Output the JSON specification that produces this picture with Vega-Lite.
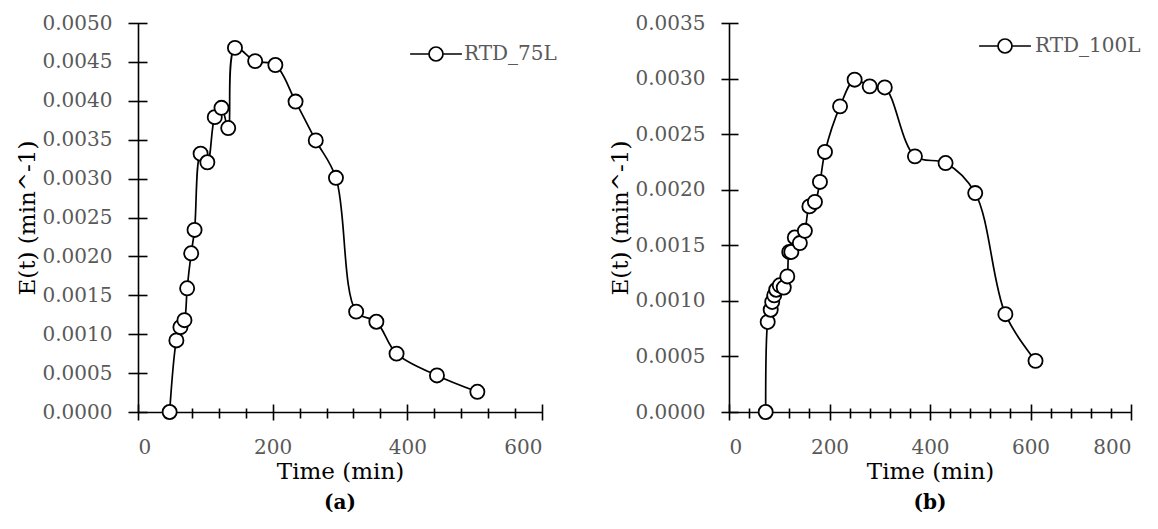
{
  "$schema": "https://vega.github.io/schema/vega-lite/v6.json",
  "background": "white",
  "padding": {"left": 16, "top": 13, "right": 0, "bottom": 0},
  "config": {
    "view": {"stroke": null},
    "font": "DejaVu Serif",
    "axis": {"grid": false, "labelFont": "DejaVu Serif", "titleFont": "DejaVu Serif", "domainColor": "black", "tickColor": "black", "domainWidth": 1.6, "tickWidth": 1.6},
    "legend": {"labelFont": "DejaVu Serif"}
  },
  "datasets": {
    "a": [
      {"t": 47, "E": 0, "series": "RTD_75L"},
      {"t": 57, "E": 0.00092, "series": "RTD_75L"},
      {"t": 63, "E": 0.00109, "series": "RTD_75L"},
      {"t": 69, "E": 0.00118, "series": "RTD_75L"},
      {"t": 73, "E": 0.00159, "series": "RTD_75L"},
      {"t": 79, "E": 0.00204, "series": "RTD_75L"},
      {"t": 84, "E": 0.00234, "series": "RTD_75L"},
      {"t": 93, "E": 0.00332, "series": "RTD_75L"},
      {"t": 103, "E": 0.00321, "series": "RTD_75L"},
      {"t": 114, "E": 0.00379, "series": "RTD_75L"},
      {"t": 124, "E": 0.00391, "series": "RTD_75L"},
      {"t": 134, "E": 0.00365, "series": "RTD_75L"},
      {"t": 144, "E": 0.00468, "series": "RTD_75L"},
      {"t": 174, "E": 0.00451, "series": "RTD_75L"},
      {"t": 204, "E": 0.00446, "series": "RTD_75L"},
      {"t": 234, "E": 0.00399, "series": "RTD_75L"},
      {"t": 264, "E": 0.00349, "series": "RTD_75L"},
      {"t": 294, "E": 0.00301, "series": "RTD_75L"},
      {"t": 324, "E": 0.00129, "series": "RTD_75L"},
      {"t": 354, "E": 0.00116, "series": "RTD_75L"},
      {"t": 384, "E": 0.00075, "series": "RTD_75L"},
      {"t": 444, "E": 0.00047, "series": "RTD_75L"},
      {"t": 504, "E": 0.00026, "series": "RTD_75L"}
    ],
    "b": [
      {"t": 73, "E": 0, "series": "RTD_100L"},
      {"t": 77, "E": 0.00081, "series": "RTD_100L"},
      {"t": 83, "E": 0.00092, "series": "RTD_100L"},
      {"t": 86, "E": 0.00099, "series": "RTD_100L"},
      {"t": 90, "E": 0.00105, "series": "RTD_100L"},
      {"t": 94, "E": 0.0011, "series": "RTD_100L"},
      {"t": 101, "E": 0.00114, "series": "RTD_100L"},
      {"t": 109, "E": 0.00112, "series": "RTD_100L"},
      {"t": 116, "E": 0.00122, "series": "RTD_100L"},
      {"t": 120, "E": 0.00144, "series": "RTD_100L"},
      {"t": 124, "E": 0.00144, "series": "RTD_100L"},
      {"t": 131, "E": 0.00157, "series": "RTD_100L"},
      {"t": 141, "E": 0.00152, "series": "RTD_100L"},
      {"t": 151, "E": 0.00163, "series": "RTD_100L"},
      {"t": 160, "E": 0.00185, "series": "RTD_100L"},
      {"t": 171, "E": 0.00189, "series": "RTD_100L"},
      {"t": 181, "E": 0.00207, "series": "RTD_100L"},
      {"t": 191, "E": 0.00234, "series": "RTD_100L"},
      {"t": 221, "E": 0.00275, "series": "RTD_100L"},
      {"t": 250, "E": 0.00299, "series": "RTD_100L"},
      {"t": 280, "E": 0.00293, "series": "RTD_100L"},
      {"t": 310, "E": 0.00292, "series": "RTD_100L"},
      {"t": 370, "E": 0.0023, "series": "RTD_100L"},
      {"t": 431, "E": 0.00224, "series": "RTD_100L"},
      {"t": 490, "E": 0.00197, "series": "RTD_100L"},
      {"t": 550, "E": 0.00088, "series": "RTD_100L"},
      {"t": 610, "E": 0.00046, "series": "RTD_100L"}
    ]
  },
  "bounds": "flush",
  "spacing": 187,
  "resolve": {"scale": {"stroke": "independent", "x": "independent", "y": "independent"}, "legend": {"stroke": "independent"}},
  "hconcat": [
    {
      "width": 404,
      "height": 389,
      "data": {"name": "a"},
      "title": {"text": "(a)", "orient": "bottom", "frame": "group", "anchor": "middle", "fontSize": 20, "fontWeight": "bold", "color": "black", "font": "DejaVu Serif", "offset": 10},
      "resolve": {"axis": {"x": "independent", "y": "independent"}},
      "layer": [
        {
          "mark": {"type": "line", "interpolate": "catmull-rom", "strokeWidth": 1.7},
          "encoding": {
            "x": {"field": "t", "type": "quantitative", "scale": {"domain": [0, 600], "nice": false},
              "axis": {"orient": "bottom", "values": [0, 200, 400, 600], "ticks": false, "labelFontSize": 20, "labelColor": "#595959", "labelPadding": 25, "title": "Time (min)", "titleFontSize": 23, "titleFontWeight": "normal", "titleColor": "black", "titlePadding": 3}},
            "y": {"field": "E", "type": "quantitative", "scale": {"domain": [0, 0.005], "nice": false},
              "axis": {"orient": "left", "values": [0, 0.0005, 0.001, 0.0015, 0.002, 0.0025, 0.003, 0.0035, 0.004, 0.0045, 0.005], "format": ".4f", "ticks": false, "labelFontSize": 20, "labelColor": "#595959", "labelPadding": 26, "title": "E(t) (min^-1)", "titleFontSize": 23, "titleFontWeight": "normal", "titleColor": "black", "titlePadding": 3}},
            "stroke": {"field": "series", "type": "nominal", "scale": {"range": ["black"]},
              "legend": {"title": null, "orient": "none", "legendX": 288, "legendY": 21, "symbolType": "M-3.7,0L-1,0M1,0L3.7,0M-1,0A1,1,0,1,1,1,0A1,1,0,1,1,-1,0Z", "symbolSize": 196, "symbolFillColor": "white", "symbolStrokeColor": "black", "symbolStrokeWidth": 1.7, "labelFontSize": 20, "labelColor": "#595959", "labelOffset": 18, "padding": 0}}
          }
        },
        {
          "mark": {"type": "point", "opacity": 0},
          "encoding": {
            "x": {"field": "t", "type": "quantitative", "axis": {"orient": "bottom", "values": [40, 80, 120, 160, 240, 280, 320, 360, 440, 480, 520, 560], "labels": false, "domain": false, "title": null, "tickSize": 10, "offset": -4}},
            "y": {"field": "E", "type": "quantitative", "axis": null}
          }
        },
        {
          "mark": {"type": "point", "filled": true, "fill": "white", "stroke": "black", "strokeWidth": 1.8, "size": 200, "opacity": 1},
          "encoding": {
            "x": {"field": "t", "type": "quantitative", "axis": {"orient": "bottom", "values": [0, 200, 400, 600], "labels": false, "domain": false, "title": null, "tickSize": 16, "offset": -8}},
            "y": {"field": "E", "type": "quantitative", "axis": {"orient": "left", "values": [0, 0.0005, 0.001, 0.0015, 0.002, 0.0025, 0.003, 0.0035, 0.004, 0.0045, 0.005], "labels": false, "domain": false, "title": null, "tickSize": 19, "offset": -9}}
          }
        }
      ]
    },
    {
      "width": 402,
      "height": 389,
      "data": {"name": "b"},
      "title": {"text": "(b)", "orient": "bottom", "frame": "group", "anchor": "middle", "fontSize": 20, "fontWeight": "bold", "color": "black", "font": "DejaVu Serif", "offset": 10},
      "resolve": {"axis": {"x": "independent", "y": "independent"}},
      "layer": [
        {
          "mark": {"type": "line", "interpolate": "catmull-rom", "strokeWidth": 1.7},
          "encoding": {
            "x": {"field": "t", "type": "quantitative", "scale": {"domain": [0, 800], "nice": false},
              "axis": {"orient": "bottom", "values": [0, 200, 400, 600, 800], "ticks": false, "labelFontSize": 20, "labelColor": "#595959", "labelPadding": 25, "title": "Time (min)", "titleFontSize": 23, "titleFontWeight": "normal", "titleColor": "black", "titlePadding": 3}},
            "y": {"field": "E", "type": "quantitative", "scale": {"domain": [0, 0.0035], "nice": false},
              "axis": {"orient": "left", "values": [0, 0.0005, 0.001, 0.0015, 0.002, 0.0025, 0.003, 0.0035], "format": ".4f", "ticks": false, "labelFontSize": 20, "labelColor": "#595959", "labelPadding": 24, "title": "E(t) (min^-1)", "titleFontSize": 23, "titleFontWeight": "normal", "titleColor": "black", "titlePadding": 3}},
            "stroke": {"field": "series", "type": "nominal", "scale": {"range": ["black"]},
              "legend": {"title": null, "orient": "none", "legendX": 266, "legendY": 13, "symbolType": "M-3.7,0L-1,0M1,0L3.7,0M-1,0A1,1,0,1,1,1,0A1,1,0,1,1,-1,0Z", "symbolSize": 196, "symbolFillColor": "white", "symbolStrokeColor": "black", "symbolStrokeWidth": 1.7, "labelFontSize": 20, "labelColor": "#595959", "labelOffset": 20, "padding": 0}}
          }
        },
        {
          "mark": {"type": "point", "opacity": 0},
          "encoding": {
            "x": {"field": "t", "type": "quantitative", "axis": {"orient": "bottom", "values": [40, 80, 120, 160, 240, 280, 320, 360, 440, 480, 520, 560, 640, 680, 720, 760], "labels": false, "domain": false, "title": null, "tickSize": 10, "offset": -4}},
            "y": {"field": "E", "type": "quantitative", "axis": null}
          }
        },
        {
          "mark": {"type": "point", "filled": true, "fill": "white", "stroke": "black", "strokeWidth": 1.8, "size": 200, "opacity": 1},
          "encoding": {
            "x": {"field": "t", "type": "quantitative", "axis": {"orient": "bottom", "values": [0, 200, 400, 600, 800], "labels": false, "domain": false, "title": null, "tickSize": 16, "offset": -8}},
            "y": {"field": "E", "type": "quantitative", "axis": {"orient": "left", "values": [0, 0.0005, 0.001, 0.0015, 0.002, 0.0025, 0.003, 0.0035], "labels": false, "domain": false, "title": null, "tickSize": 17, "offset": -9}}
          }
        }
      ]
    }
  ]
}
